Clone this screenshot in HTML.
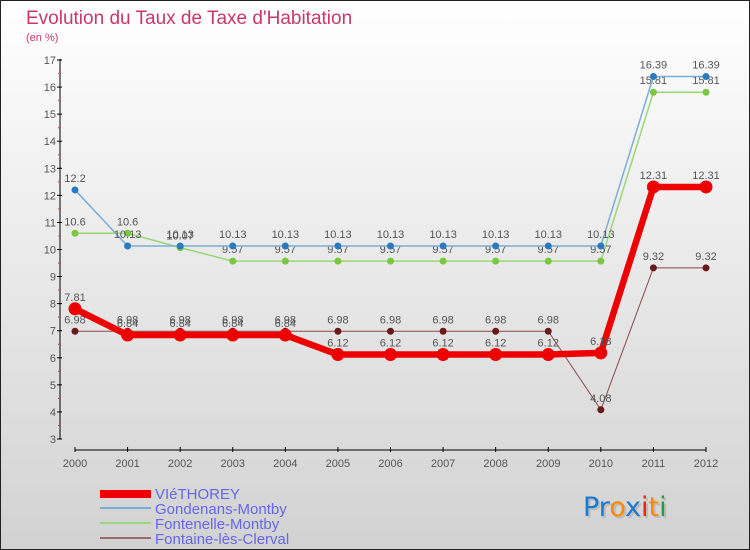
<!DOCTYPE html>
<html><head><meta charset="utf-8"><style>
body{margin:0;width:750px;height:550px;overflow:hidden}
svg{display:block;font-family:"Liberation Sans",sans-serif}
</style></head><body>
<svg id="c" width="750" height="550" xmlns="http://www.w3.org/2000/svg">
<defs><linearGradient id="bg" x1="0" y1="0" x2="0" y2="1"><stop offset="0" stop-color="#ffffff"/><stop offset="1" stop-color="#d2d2d2"/></linearGradient></defs>
<rect x="0.5" y="0.5" width="749" height="549" fill="url(#bg)" stroke="#222"/>
<text x="26" y="24" font-size="19" fill="#c8386a">Evolution du Taux de Taxe d'Habitation</text>
<text x="26" y="41" font-size="11" fill="#c8386a">(en %)</text>
<g id="g"></g>
<g>
<rect x="100" y="490" width="51" height="8" fill="#ee0000"/>
<text x="155" y="499" font-size="15" fill="#6666ee">VIéTHOREY</text>
<line x1="100" y1="508" x2="151" y2="508" stroke="#7aaed6" stroke-width="2"/>
<text x="155" y="514" font-size="15" fill="#6666ee">Gondenans-Montby</text>
<line x1="100" y1="523" x2="151" y2="523" stroke="#98d878" stroke-width="2"/>
<text x="155" y="529" font-size="15" fill="#6666ee">Fontenelle-Montby</text>
<line x1="100" y1="538" x2="151" y2="538" stroke="#9a6a6a" stroke-width="2"/>
<text x="155" y="544" font-size="15" fill="#6666ee">Fontaine-lès-Clerval</text>
</g>
<g font-size="27" font-family="'DejaVu Sans',sans-serif">
<text x="585" y="518" fill="#bbb"><tspan>Proxiti</tspan></text>
<text x="583" y="516"><tspan fill="#1a7ad0">Pr</tspan><tspan fill="#ff8800">o</tspan><tspan fill="#1a7ad0">x</tspan><tspan fill="#ee2200">i</tspan><tspan fill="#ff8800">t</tspan><tspan fill="#22a040">i</tspan></text>
</g>
</svg>
<script>
const years=[2000,2001,2002,2003,2004,2005,2006,2007,2008,2009,2010,2011,2012];
const yTicks=[3,4,5,6,7,8,9,10,11,12,13,14,15,16,17];
const vie=[7.81,6.84,6.84,6.84,6.84,6.12,6.12,6.12,6.12,6.12,6.18,12.31,12.31];
const gondenans=[12.2,10.13,10.13,10.13,10.13,10.13,10.13,10.13,10.13,10.13,10.13,16.39,16.39];
const fontenelle=[10.6,10.6,10.07,9.57,9.57,9.57,9.57,9.57,9.57,9.57,9.57,15.81,15.81];
const fontaine=[6.98,6.98,6.98,6.98,6.98,6.98,6.98,6.98,6.98,6.98,4.08,9.32,9.32];
const NS="http://www.w3.org/2000/svg";
const g=document.getElementById('g');
const X=i=>75+i*(631/12);
const Y=v=>439-(v-3)*(379/14);
function el(t,a,p){const e=document.createElementNS(NS,t);for(const k in a)e.setAttribute(k,a[k]);(p||g).appendChild(e);return e;}
let ya=el('line',{x1:60,y1:59,x2:60,y2:439,stroke:'#000'});


yTicks.forEach(v=>{
 el('line',{x1:57,y1:Y(v),x2:62,y2:Y(v),stroke:'#000'});
 if(v<17){el('line',{x1:58,y1:Y(v+0.5),x2:60,y2:Y(v+0.5),stroke:'#f03030'});}
 const t=el('text',{x:56,y:Y(v)+4,'font-size':11,fill:'#555','text-anchor':'end'});t.textContent=v;
 
 
});
let xa=el('line',{x1:75,y1:450,x2:706,y2:450,stroke:'#000'});


years.forEach((y,i)=>{
 el('line',{x1:X(i),y1:447,x2:X(i),y2:452,stroke:'#000'});
 const t=el('text',{x:X(i),y:467,'font-size':11,fill:'#555','text-anchor':'middle'});t.textContent=y;
 
 
});
function series(data,color,w,r,dot,name){
 const p=el('polyline',{points:data.map((v,i)=>X(i)+','+Y(v)).join(' '),fill:'none',stroke:color,'stroke-width':w,'stroke-linejoin':'round'});
 
 
 data.forEach((v,i)=>{
  const c=el('circle',{cx:X(i),cy:Y(v),r:r,fill:dot});
  
  
  const t=el('text',{x:X(i),y:Y(v)-8,'font-size':11,fill:'#555','text-anchor':'middle'});t.textContent=v;
  
  
 });
}
series(fontaine,'#8a4a4a',1,3.5,'#6a1a1a','fontaine');
series(fontenelle,'#98d878',1.5,3.5,'#78c840','fontenelle');
series(gondenans,'#7aaed6',1.5,3.5,'#2a7ac0','gondenans');
series(vie,'#ee0000',6.5,6.5,'#ee0000','vie');
</script>
</body></html>
